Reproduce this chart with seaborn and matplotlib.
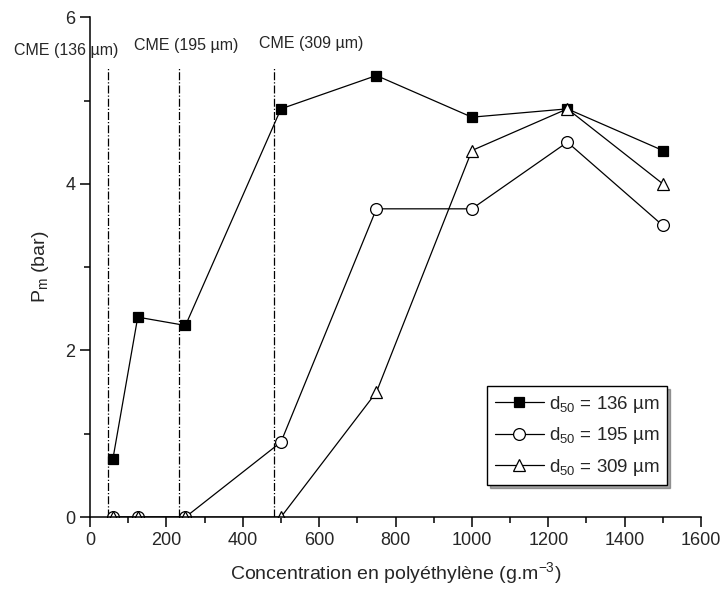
import pandas as pd
import matplotlib.pyplot as plt
import seaborn as sns
from matplotlib.lines import Line2D
from matplotlib.ticker import MultipleLocator

conc = [60, 125, 250, 500, 750, 1000, 1250, 1500]
pm_136 = [0.7, 2.4, 2.3, 4.9, 5.3, 4.8, 4.9, 4.4]
pm_195 = [0.0, 0.0, 0.0, 0.9, 3.7, 3.7, 4.5, 3.5]
pm_309 = [0.0, 0.0, 0.0, 0.0, 1.5, 4.4, 4.9, 4.0]

cme_x = [48, 233, 482]
cme_labels = ["CME (136 µm)", "CME (195 µm)", "CME (309 µm)"]

series_labels = ["d$_{50}$ = 136 µm", "d$_{50}$ = 195 µm", "d$_{50}$ = 309 µm"]

df = pd.DataFrame({
    'conc': conc,
    'pm_136': pm_136,
    'pm_195': pm_195,
    'pm_309': pm_309,
})

sns.set_style("ticks")
plt.rcParams['font.family'] = ['Liberation Sans', 'DejaVu Sans']
plt.rcParams['mathtext.fontset'] = 'custom'
plt.rcParams['mathtext.rm'] = 'Liberation Sans'
plt.rcParams['mathtext.it'] = 'Liberation Sans'
plt.rcParams['mathtext.default'] = 'regular'

fig = plt.figure(figsize=(7.23, 5.93), dpi=100)
ax = fig.add_axes([0.1245, 0.128, 0.8451, 0.843])

# vertical CME lines
for x in cme_x:
    ax.plot([x, x], [0, 5.4], color='black', lw=0.9, ls='-.')
tx = [-63, 251, 579]
for x, lab, ty in zip(tx, cme_labels, [5.6, 5.66, 5.69]):
    ax.text(x, ty, lab, ha='center', va='center', fontsize=11.5, clip_on=False)

styles = [
    ('pm_136', 's', 'black', 7.5),
    ('pm_195', 'o', 'white', 8.5),
    ('pm_309', '^', 'white', 9),
]
for col, mk, fc, ms in styles:
    sns.lineplot(data=df, x='conc', y=col, ax=ax, color='black', lw=0.9,
                 marker=mk, markersize=ms, markerfacecolor=fc,
                 markeredgecolor='black', markeredgewidth=0.9, clip_on=True)

ax.set_xlim(0, 1600)
ax.set_ylim(0, 6)
ax.xaxis.set_major_locator(MultipleLocator(200))
ax.xaxis.set_minor_locator(MultipleLocator(100))
ax.yaxis.set_major_locator(MultipleLocator(2))
ax.yaxis.set_minor_locator(MultipleLocator(1))
ax.tick_params(which='major', length=7, width=1.1, labelsize=13, color='black')
ax.tick_params(which='minor', length=4, width=1.1, color='black')
sns.despine(ax=ax)
for s in ['left', 'bottom']:
    ax.spines[s].set_linewidth(1.1)
    ax.spines[s].set_color('black')
    ax.spines[s].set_zorder(5)

ax.set_xlabel("Concentration en polyéthylène (g.m$^{-3}$)", fontsize=14, labelpad=8)
ax.set_ylabel("P$_{m}$ (bar)", fontsize=14, labelpad=10)

handles = [
    Line2D([], [], color='black', lw=0.9, marker=mk, markersize=ms,
           markerfacecolor=fc, markeredgecolor='black', markeredgewidth=0.9)
    for _, mk, fc, ms in styles
]
leg = ax.legend(handles, series_labels, loc='lower right',
                bbox_to_anchor=(0.945, 0.064), fontsize=13.5,
                frameon=True, fancybox=False, shadow=True,
                handlelength=2.6, handletextpad=0.3, borderpad=0.4,
                labelspacing=0.55, borderaxespad=0)
leg.get_frame().set_edgecolor('black')
leg.get_frame().set_linewidth(1.0)

fig.savefig("out.png", dpi=100)
